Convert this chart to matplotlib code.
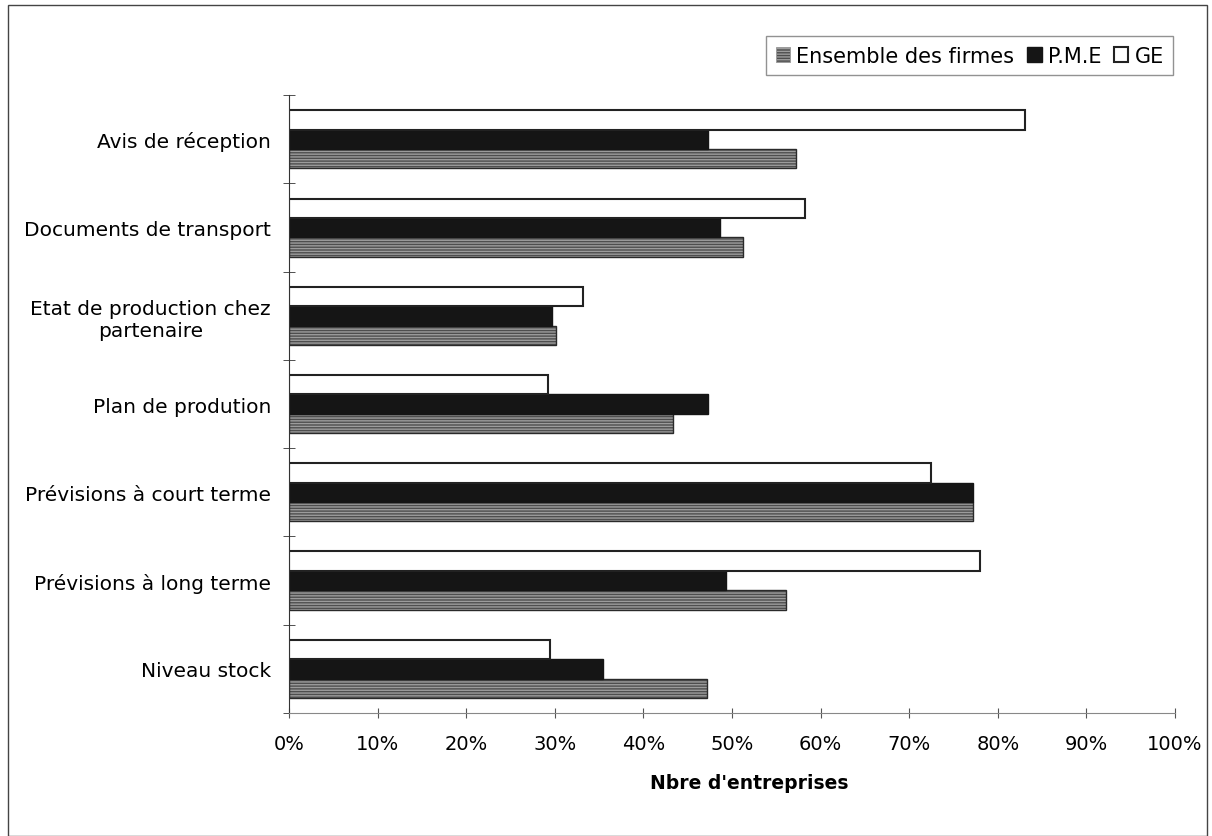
import numpy as np
import matplotlib
matplotlib.use('Agg')
import matplotlib.pyplot as plt
from matplotlib.patches import Rectangle

plt.rcParams['font.family'] = ['DejaVu Sans']

# categories, top to bottom as in the chart
categories = ['Avis de réception', 'Documents de transport',
              'Etat de production chez\npartenaire', 'Plan de prodution',
              'Prévisions à court terme', 'Prévisions à long terme',
              'Niveau stock']
ensemble = [57.2, 51.2, 30.1, 43.3, 77.2, 56.1, 47.2]
pme = [47.3, 48.6, 29.7, 47.3, 77.2, 49.3, 35.4]
ge = [83.1, 58.2, 33.2, 29.2, 72.5, 78.0, 29.5]
xticks = np.arange(0, 101, 10)

fig = plt.figure(figsize=(12.12, 8.37), dpi=100)
fig.patches.append(Rectangle((0.007, 0.0), 0.989, 0.993, transform=fig.transFigure,
                             fill=False, edgecolor='#444444', linewidth=1.0))
ax = fig.add_axes([0.2385, 0.147, 0.731, 0.738])

n = len(categories)
pos = np.arange(n)[::-1]
h = 0.22

ax.barh(pos - h, ensemble, height=h, color='#4e4e4e', edgecolor='#9c9c9c',
        hatch='------', linewidth=0.6, label='Ensemble des firmes')
ax.barh(pos - h, ensemble, height=h, fill=False, edgecolor='#2a2a2a', linewidth=1.0)
ax.barh(pos, pme, height=h, color='#151515', edgecolor='#151515',
        linewidth=1.0, label='P.M.E')
ax.barh(pos + h, ge, height=h, color='white', edgecolor='#222222',
        linewidth=1.5, label='GE')

ax.set_xlim(0, 100)
ax.set_ylim(-0.5, n - 0.5)
ax.set_xticks(xticks)
ax.set_xticklabels(['%d%%' % t for t in xticks], fontsize=14)
ax.set_yticks(pos)
ax.set_yticklabels(categories, fontsize=14.5, ha='right', multialignment='center')
ax.tick_params(axis='y', length=0, pad=13)
ax.set_yticks(np.arange(-0.5, n, 1.0), minor=True)
ax.tick_params(axis='y', which='minor', direction='inout', length=8, color='#333333')
ax.tick_params(axis='x', direction='inout', length=7, color='#555555', pad=12)

for s in ['top', 'right']:
    ax.spines[s].set_visible(False)
ax.spines['left'].set_color('#333333')
ax.spines['bottom'].set_color('#888888')

ax.set_xlabel("Nbre d'entreprises", fontsize=13.5, fontweight='bold')
ax.xaxis.set_label_coords(0.519, -0.098)

leg = ax.legend(loc='upper right', bbox_to_anchor=(0.998, 1.0955), borderaxespad=0,
                ncol=3, fontsize=15, frameon=True, fancybox=False,
                handlelength=0.7, handleheight=0.7, handletextpad=0.3,
                columnspacing=0.6, borderpad=0.45)
leg.get_frame().set_edgecolor('#777777')
leg.get_frame().set_linewidth(1.0)

fig.savefig('out.png', dpi=100)
